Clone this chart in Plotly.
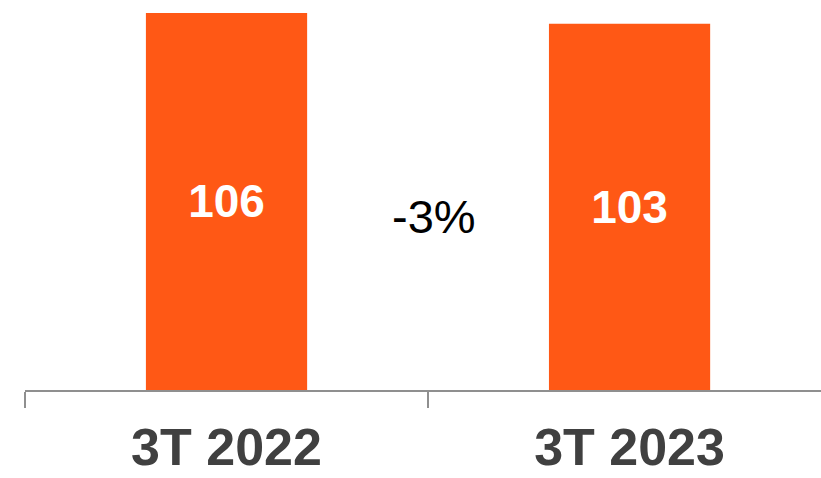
import plotly.graph_objects as go

categories = ["3T 2022", "3T 2023"]
values = [106, 103]
value_labels = ["106", "103"]
change_label = "-3%"

bar_color = "#FF5815"

fig = go.Figure()
fig.add_trace(go.Bar(
    x=categories,
    y=values,
    text=value_labels,
    textposition="inside",
    insidetextanchor="middle",
    textangle=0,
    textfont=dict(family="Liberation Sans, Arial, sans-serif", size=46, color="white", weight="bold"),
    marker=dict(color=bar_color, line=dict(width=0)),
    width=0.4,
    hoverinfo="skip",
))

fig.add_annotation(
    x=0.515, y=48.9, xref="x", yref="y",
    text=change_label, showarrow=False,
    font=dict(family="Liberation Sans, Arial, sans-serif", size=47, color="black"),
)

fig.update_layout(
    width=821, height=478,
    margin=dict(l=25, r=0, t=0, b=88),
    paper_bgcolor="white",
    plot_bgcolor="white",
    showlegend=False,
)
fig.update_xaxes(
    type="category",
    range=[-0.5, 1.475],
    showline=True, linecolor="#8F8F8F", linewidth=2,
    ticks="outside", tickson="boundaries", ticklen=16, tickwidth=2, tickcolor="#8F8F8F",
    ticklabelstandoff=11,
    tickfont=dict(family="Liberation Sans, Arial, sans-serif", size=52, color="#404040", weight="bold"),
    showgrid=False, zeroline=False,
)
fig.update_yaxes(
    range=[0, 109.65],
    visible=False, showgrid=False, zeroline=False,
)

fig.write_html(
    "out.html",
    config={"displayModeBar": False},
    post_script="document.body.style.margin='0px';document.body.style.overflow='hidden';",
)
